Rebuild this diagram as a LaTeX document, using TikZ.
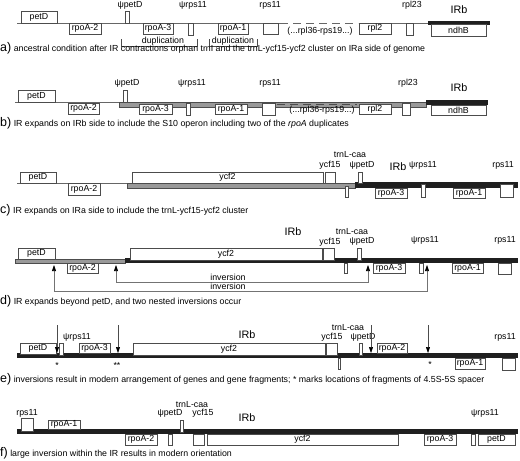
\documentclass[tikz,border=0pt]{standalone}
\usepackage{fontspec}
\setmainfont{Liberation Sans}
\usetikzlibrary{arrows.meta}
\newcommand{\gnfont}{\fontsize{8.8}{10}\selectfont}
\newcommand{\irbfont}{\fontsize{10.8}{12}\selectfont}
\newcommand{\capletter}{\fontsize{12.5}{12}\selectfont}
\newcommand{\gb}[6]{\node[gene,minimum width={(#4)-(#2)},minimum height={(#5)-(#3)}] (#1) at ({((#2)+(#4))/2},{((#3)+(#5))/2}) {#6};}
\tikzset{
  gene/.style={draw=black!70, fill=white, line width=0.55pt, inner sep=0pt, outer sep=0pt, font=\gnfont},
  lbl/.style={inner sep=0pt, font=\gnfont},
  irlbl/.style={inner sep=0pt, font=\irbfont},
  captext/.style={anchor=base west, inner sep=0pt, font=\gnfont},
  thinline/.style={draw=black!60, line width=0.6pt},
  graybar/.style={fill=black!40, draw=black!70, line width=0.4pt},
  blackbar/.style={fill=black!88},
  dashline/.style={draw=black!60, line width=0.8pt, dash pattern=on 8pt off 5pt},
  darkdash/.style={draw=black!70, line width=0.8pt, dash pattern=on 8pt off 5pt},
  bracket/.style={draw=black!70, line width=0.5pt},
  invarrow/.style={draw=black!55, line width=0.6pt, {Triangle[length=6pt,width=4pt,black]}-{Triangle[length=6pt,width=4pt,black]}},
  downarrow/.style={draw=black!70, line width=0.5pt, -{Triangle[length=6pt,width=4pt,black]}}
}
\begin{document}
\begin{tikzpicture}[x=1pt,y=-1pt]
\useasboundingbox (0,0) rectangle (520,461);
\fill[white] (0,0) rectangle (520,461);

% ---------------- panel a ----------------
\draw[thinline] (17,23) -- (280,23);
\draw[dashline] (280,23) -- (358,23);
\draw[thinline] (359,23) -- (428,23);
\fill[blackbar] (428,20.5) rectangle (490,24.5);
\gb{aPetD}{21}{11}{57}{23}{petD}
\gb{aRpoAii}{69}{23}{101}{34}{rpoA-2}
\gb{aPsiPetD}{125}{11}{129}{23}{}
\gb{aRpoAiii}{143}{23}{173}{34}{rpoA-3}
\gb{aPsiRps}{188}{23}{193}{35}{}
\gb{aRpoAi}{218}{23}{248}{34}{rpoA-1}
\gb{aRps}{263}{23}{278}{34}{}
\gb{aRpl}{359}{23}{391}{34}{rpl2}
\gb{aRplxxiii}{406}{23}{413}{35}{}
\gb{aNdhB}{431}{24.5}{486}{36}{ndhB}
\node[lbl] (aLpsipetD) at (130,5) {ψpetD};
\node[lbl] (aLpsirps) at (193,5) {ψrps11};
\node[lbl] (aLrps) at (270,5) {rps11};
\node[lbl] (aLrpl) at (412,5) {rpl23};
\node[irlbl] (aLirb) at (459,10) {IRb};
\node[lbl] (aLmid) at (320,31) {(...rpl36-rps19...)};
\draw[bracket] (121,39) -- (121,46) -- (197,46) -- (197,39);
\node[lbl] (aDupi) at (163,41.5) {duplication};
\draw[bracket] (209,39) -- (209,46) -- (257,46) -- (257,39);
\node[lbl] (aDupii) at (233,41.5) {duplication};
\node[captext] (aCap) at (0,51.5) {{\capletter a)} ancestral condition after IR contractions orphan trnI and the trnL-ycf15-ycf2 cluster on IRa side of genome};

% ---------------- panel b ----------------
\draw[thinline] (15,102) -- (119,102);
\draw[graybar] (119,102) rectangle (426,107);
\draw[darkdash] (277,104.5) -- (357,104.5);
\fill[blackbar] (426,100) rectangle (488,105);
\gb{bPetD}{18}{90}{55}{102}{petD}
\gb{bRpoAii}{68}{103}{99}{114}{rpoA-2}
\gb{bPsiPetD}{123}{90}{127}{102}{}
\gb{bRpoAiii}{139}{104}{172}{114}{rpoA-3}
\gb{bPsiRps}{186}{103}{190}{115.5}{}
\gb{bRpoAi}{215}{104}{247}{114}{rpoA-1}
\gb{bRps}{262}{103}{275}{115}{}
\gb{bRpl}{359}{104}{391}{114}{rpl2}
\gb{bRplxxiii}{402}{103}{410}{115}{}
\gb{bNdhB}{431}{105}{486}{115}{ndhB}
\node[lbl] (bLpsipetD) at (127,83) {ψpetD};
\node[lbl] (bLpsirps) at (192,83) {ψrps11};
\node[lbl] (bLrps) at (270,83) {rps11};
\node[lbl] (bLrpl) at (408,83) {rpl23};
\node[irlbl] (bLirb) at (459,88) {IRb};
\node[lbl] (bLmid) at (322,110) {(...rpl36-rps19...)};
\node[captext] (bCap) at (0,126.5) {{\capletter b)} IR expands on IRb side to include the S10 operon including two of the \textit{rpoA} duplicates};

% ---------------- panel c ----------------
\draw[thinline] (17,183) -- (127,183);
\draw[graybar] (127,183) rectangle (355,188);
\fill[blackbar] (355,182) rectangle (518,188);
\gb{cPetD}{20}{172}{56}{183}{petD}
\gb{cRpoAii}{68}{183}{100}{195}{rpoA-2}
\gb{cYcf}{132}{172}{323}{183}{ycf2}
\gb{cYcfxv}{325}{172}{335}{183}{}
\gb{cTrnL}{345}{186}{348}{197}{}
\gb{cPsiPetD}{358}{172}{362}{183}{}
\gb{cRpoAiii}{375}{188}{407}{198}{rpoA-3}
\gb{cPsiRps}{421}{184}{425}{197}{}
\gb{cRpoAi}{453}{188}{485}{198}{rpoA-1}
\gb{cRps}{500}{184}{513}{197}{}
\node[lbl] (cLtrnl) at (350,155) {trnL-caa};
\node[lbl] (cLycf) at (330,165) {ycf15};
\node[lbl] (cLpsipetD) at (362,165) {ψpetD};
\node[irlbl] (cLirb) at (398,167) {IRb};
\node[lbl] (cLpsirps) at (423,165) {ψrps11};
\node[lbl] (cLrps) at (503,165) {rps11};
\node[captext] (cCap) at (0,213.5) {{\capletter c)} IR expands on IRa side to include the trnL-ycf15-ycf2 cluster};

% ---------------- panel d ----------------
\draw[graybar] (15,259) rectangle (125,263);
\fill[blackbar] (125,258) rectangle (518,263);
\gb{dPetD}{18}{248}{55}{259}{petD}
\gb{dRpoAii}{67}{263}{98}{273}{rpoA-2}
\gb{dYcf}{130}{248}{322}{260}{ycf2}
\gb{dYcfxv}{323}{248}{334}{260}{}
\gb{dTrnL}{344}{263}{347}{273}{}
\gb{dPsiPetD}{357}{248}{361}{260}{}
\gb{dRpoAiii}{373}{263}{405}{273}{rpoA-3}
\gb{dPsiRps}{419}{263}{423}{273}{}
\gb{dRpoAi}{452}{263}{483}{273}{rpoA-1}
\gb{dRps}{498}{263}{511}{274}{}
\node[irlbl] (dLirb) at (293,232) {IRb};
\node[lbl] (dLtrnl) at (352,231.5) {trnL-caa};
\node[lbl] (dLycf) at (330,242) {ycf15};
\node[lbl] (dLpsipetD) at (362,241.5) {ψpetD};
\node[lbl] (dLpsirps) at (425,240) {ψrps11};
\node[lbl] (dLrps) at (505,240) {rps11};
\coordinate (dIa) at (116,265);
\coordinate (dIb) at (368,265);
\coordinate (dOa) at (54,265);
\coordinate (dOb) at (427,265);
\draw[invarrow] (dIa) -- (116,282) -- (368,282) -- (dIb);
\draw[invarrow] (dOa) -- (54,291) -- (427,291) -- (dOb);
\node[lbl] (dInvi) at (228,277) {inversion};
\node[lbl] (dInvii) at (228,286) {inversion};
\node[captext] (dCap) at (0,304.5) {{\capletter d)} IR expands beyond petD, and two nested inversions occur};

% ---------------- panel e ----------------
\fill[blackbar] (17,353) rectangle (518,358);
\gb{ePetD}{20}{343}{56}{354}{petD}
\gb{ePsiRps}{59}{343}{63}{355}{}
\gb{eRpoAiii}{79}{343}{110}{353}{rpoA-3}
\gb{eYcf}{133}{343}{325}{355}{ycf2}
\gb{eYcfxv}{326}{343}{337}{355}{}
\gb{eTrnL}{338}{358}{340.5}{369}{}
\gb{ePsiPetD}{359}{343}{362}{355}{}
\gb{eRpoAii}{377}{343}{407}{353}{rpoA-2}
\gb{eRpoAi}{455}{358}{485}{369}{rpoA-1}
\gb{eRps}{502}{358}{515}{370}{}
\node[lbl] (eLpsirps) at (77,337) {ψrps11};
\node[irlbl] (eLirb) at (247,335) {IRb};
\node[lbl] (eLtrnl) at (348,328) {trnL-caa};
\node[lbl] (eLycf) at (332,337) {ycf15};
\node[lbl] (eLpsipetD) at (363,337) {ψpetD};
\node[lbl] (eLrps) at (505,337) {rps11};
\coordinate (eAs) at (57,325); \coordinate (eAt) at (57,353);
\coordinate (eBs) at (118,325); \coordinate (eBt) at (118,353);
\coordinate (eCs) at (371,325); \coordinate (eCt) at (371,353);
\coordinate (eDs) at (428,325); \coordinate (eDt) at (428,353);
\draw[downarrow] (eAs) -- (eAt);
\draw[downarrow] (eBs) -- (eBt);
\draw[downarrow] (eCs) -- (eCt);
\draw[downarrow] (eDs) -- (eDt);
\node[lbl] (eStari) at (57,365) {*};
\node[lbl] (eStarii) at (117,365) {**};
\node[lbl] (eStariii) at (430,364) {*};
\node[captext] (eCap) at (0,382.5) {{\capletter e)} inversions result in modern arrangement of genes and gene fragments; * marks locations of fragments of 4.5S-5S spacer};

% ---------------- panel f ----------------
\fill[blackbar] (17,429) rectangle (518,434);
\gb{fRps}{21}{418}{33}{431}{}
\gb{fRpoAi}{48}{420}{80}{429}{rpoA-1}
\gb{fRpoAii}{125}{434}{157}{445}{rpoA-2}
\gb{fPsiPetD}{168}{434}{172}{445}{}
\gb{fTrnL}{180}{420}{183}{432}{}
\gb{fYcfxv}{193}{434}{204}{445}{}
\gb{fYcf}{207}{434}{398}{445}{ycf2}
\gb{fRpoAiii}{424}{434}{456}{445}{rpoA-3}
\gb{fPsiRps}{471}{434}{475}{445}{}
\gb{fPetD}{478}{434}{515}{445}{petD}
\node[lbl] (fLrps) at (27,413) {rps11};
\node[lbl] (fLpsipetD) at (170,413) {ψpetD};
\node[lbl] (fLtrnl) at (192,405) {trnL-caa};
\node[lbl] (fLycf) at (203,413) {ycf15};
\node[irlbl] (fLirb) at (247,418) {IRb};
\node[lbl] (fLpsirps) at (485,413) {ψrps11};
\node[captext] (fCap) at (0,456.5) {{\capletter f)} large inversion within the IR results in modern orientation};
\end{tikzpicture}
\end{document}
